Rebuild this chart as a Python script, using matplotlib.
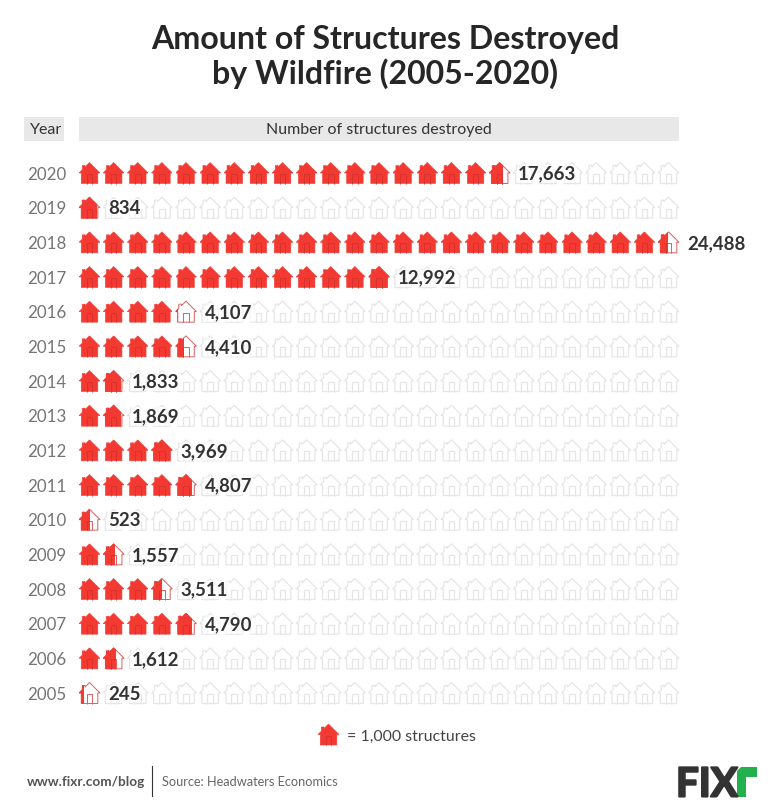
import matplotlib
matplotlib.use("Agg")
import matplotlib.pyplot as plt
import matplotlib.patheffects as pe
from matplotlib.path import Path
from matplotlib.patches import PathPatch, Rectangle, Polygon

years = [2020, 2019, 2018, 2017, 2016, 2015, 2014, 2013, 2012, 2011, 2010, 2009, 2008, 2007, 2006, 2005]
destroyed = [17663, 834, 24488, 12992, 4107, 4410, 1833, 1869, 3969, 4807, 523, 1557, 3511, 4790, 1612, 245]
houses_total = 25
per_house = 1000
title = "Amount of Structures Destroyed\nby Wildfire (2005-2020)"
header_year = "Year"
header_value = "Number of structures destroyed"
legend_text = "= 1,000 structures"
footer_site = "www.fixr.com/blog"
footer_source = "Source: Headwaters Economics"

W, H = 770, 810
plt.rcParams["font.family"] = "Lato"
fig = plt.figure(figsize=(W / 100, H / 100), dpi=100)
bg = fig.add_axes([0, 0, 1, 1])
bg.set_xlim(0, W); bg.set_ylim(H, 0); bg.axis("off")

# plot area: each house cell is 24.125 px wide; row pitch 34.67 px
PITCH = 24.125
PX_L, PX_R = 79, 79 + PITCH * houses_total
ROW = (693 - 173) / 15
top_px, bot_px = 155, 711
ax = fig.add_axes([PX_L / W, 1 - bot_px / H, (PX_R - PX_L) / W, (bot_px - top_px) / H])
ax.set_xlim(0, houses_total * per_house)
ax.set_ylim(2020 - (bot_px - 173) / ROW, 2020 + (173 - top_px) / ROW)
ax.axis("off")
ax.patch.set_alpha(0)

HOUSE = [(10.5, 0), (21, 10.5), (18.8, 10.5), (18.8, 21), (2.3, 21), (2.3, 10.5), (0, 10.5),
         (3.3, 7.2), (3.3, 3), (6, 3), (6, 4.5), (10.5, 0)]
DOOR = [(7.7, 21), (7.7, 11.5), (13.3, 11.5), (13.3, 21)]
FILL = "#f23a33"; EDGE = "#d9605c"; DOOR_RED = "#d9322d"; GREY = "#e6e6e6"
U = per_house / PITCH  # data units per px


def pts(shape, i, year):
    return [(i * per_house + x * U, year - (y - 10.5) / ROW) for x, y in shape]


for year, v in zip(years, destroyed):
    for i in range(houses_total):
        frac = min(max(v / per_house - i, 0), 1)
        body, door = pts(HOUSE, i, year), pts(DOOR, i, year)
        if frac == 0:
            ax.add_patch(Polygon(body, closed=True, fc="white", ec=GREY, lw=0.9, zorder=2))
            ax.add_patch(PathPatch(Path(door), fc="none", ec=GREY, lw=0.9, zorder=2))
            continue
        if frac < 1:
            ax.add_patch(Polygon(body, closed=True, fc="white", ec=EDGE, lw=0.7, zorder=3))
            ax.add_patch(PathPatch(Path(door), fc="none", ec=EDGE, lw=0.7, zorder=3))
        clip = Rectangle((i * per_house, year - 0.5), frac * 21 * U, 1, transform=ax.transData)
        p = Polygon(body, closed=True, fc=FILL, ec=FILL, lw=0.4, zorder=4)
        ax.add_patch(p); p.set_clip_path(clip)
        d = PathPatch(Path(door), fc="none", ec=DOOR_RED, lw=0.7, zorder=5)
        ax.add_patch(d); d.set_clip_path(clip)
    last = v / per_house
    x_lab = (int(last) + (0 if last == int(last) else 1)) * per_house + 5 * U
    ypx = 173 + (2020 - year) * ROW
    ax.text(x_lab, year - 1.0 / ROW, f"{v:,}", ha="left", va="center", fontsize=13.4, weight="bold",
            color="#333333", zorder=7,
            bbox=dict(fc="white", ec="none", alpha=0.6, pad=0.6))
    bg.text(27, ypx + 1.5, str(year), ha="left", va="center", fontsize=12.2,
            color="#757575")

# headers
bg.add_patch(Rectangle((24, 117), 40, 24, fc="#e8e8e8", ec="none"))
bg.add_patch(Rectangle((79, 117), 600, 24, fc="#e8e8e8", ec="none"))
bg.text(46.5, 130, header_year, ha="center", va="center", fontsize=11.5, color="#333333")
bg.text(379, 130, header_value, ha="center", va="center", fontsize=11.5, color="#333333")

# title
fig.text(385 / W, 1 - 57 / H, title, ha="center", va="center", fontsize=23.1, weight="bold",
         color="#262626", linespacing=1.2)

# legend key
lx, ly = 318, 724
bg.add_patch(Polygon([(lx + x, ly + y) for x, y in HOUSE], closed=True, fc=FILL, ec=FILL, lw=0.4))
bg.add_patch(PathPatch(Path([(lx + x, ly + y) for x, y in DOOR]), fc="none", ec=DOOR_RED, lw=0.7))
bg.text(347, 736.5, legend_text, ha="left", va="center", fontsize=11.4, color="#444444")

# footer
bg.text(27, 782, footer_site, ha="left", va="center", fontsize=9.8, weight="bold", color="#555555")
bg.plot([151.5, 151.5], [766, 796], color="#333333", lw=0.8)
bg.text(162, 782, footer_source, ha="left", va="center", fontsize=9.2, color="#666666")

# logo
bg.text(676, 796.5, "FIX", ha="left", va="baseline", fontsize=29, weight="bold", color="#333333",
        family=["Liberation Sans Narrow", "Lato"],
        path_effects=[pe.withStroke(linewidth=1.5, foreground="#333333")])
bg.add_patch(Polygon([(737, 797), (737, 771), (741, 767), (757, 767), (757, 777), (746, 777), (746, 797)],
                     closed=True, fc="#22b14c", ec="none"))

fig.savefig("out.png", dpi=100)
